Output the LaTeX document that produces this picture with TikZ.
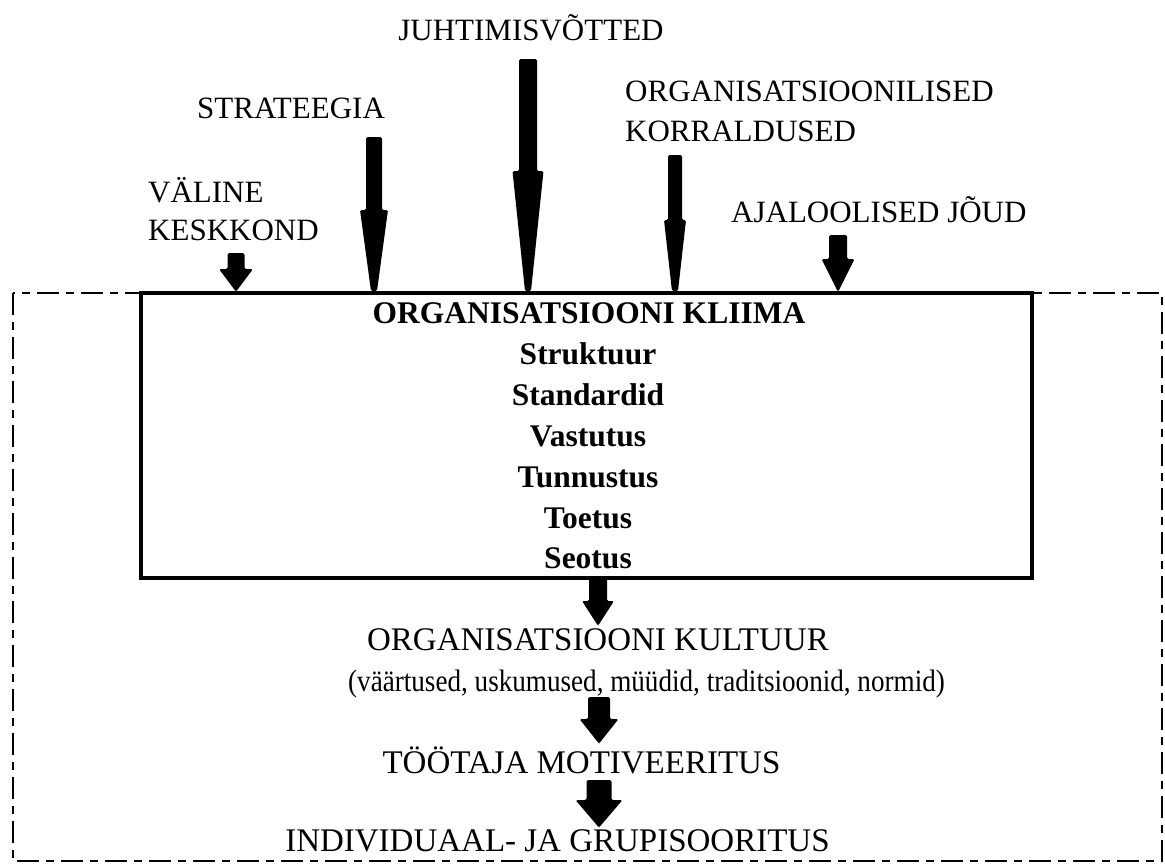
\documentclass[tikz,border=0pt]{standalone}
\usepackage{fontspec}
\setmainfont{Liberation Serif}
\usetikzlibrary{calc}
\tikzset{
  lbl/.style={inner sep=0pt, font=\fontsize{31}{38}\selectfont},
  lblbig/.style={inner sep=0pt, font=\fontsize{33}{40}\selectfont},
  lblnarrow/.style={inner sep=0pt, font=\fontsize{31}{38}\selectfont, xscale=0.875, transform shape},
  blbl/.style={inner sep=0pt, font=\fontsize{31.5}{38}\selectfont\bfseries},
  frame/.style={line width=2pt, dash pattern=on 22pt off 7pt on 8pt off 7pt},
  mainbox/.style={draw, line width=4pt, fill=white, inner sep=0pt},
  arrowfill/.style={fill=black, rounded corners=1.5pt}
}
\newcommand\taperarrow[6]{%
  \fill[arrowfill] let \p1=(#1), \p2=(#2) in
    (\x1-#3pt,\y1) -- (\x1+#3pt,\y1) -- (\x1+#3pt,\y2+#4pt) -- (\x1+#5pt,\y2+#4pt)
    -- (\x1+#6pt,\y2) -- (\x1-#6pt,\y2) -- (\x1-#5pt,\y2+#4pt) -- (\x1-#3pt,\y2+#4pt) -- cycle;}
\begin{document}
\begin{tikzpicture}[x=1pt,y=-1pt]
\useasboundingbox (0,0) rectangle (1165,863);
% outer dashed frame
\draw[frame] (13,293) rectangle (1162,861);
% main box
\node[mainbox, minimum width=891pt, minimum height=285pt] (box) at (586.5,435.5) {};
% box texts
\node[blbl, anchor=base] (k0) at (589,323) {ORGANISATSIOONI KLIIMA};
\node[blbl, anchor=base] (k1) at (588,364) {Struktuur};
\node[blbl, anchor=base] (k2) at (588,405) {Standardid};
\node[blbl, anchor=base] (k3) at (588,446) {Vastutus};
\node[blbl, anchor=base] (k4) at (588,487) {Tunnustus};
\node[blbl, anchor=base] (k5) at (588,528) {Toetus};
\node[blbl, anchor=base] (k6) at (588,568) {Seotus};
% top labels
\node[lbl, anchor=base] (juht) at (531,40) {JUHTIMISVÕTTED};
\node[lbl, anchor=base] (strat) at (291,118) {STRATEEGIA};
\node[lbl, anchor=base west] (org1) at (625,101) {ORGANISATSIOONILISED};
\node[lbl, anchor=base west] (org2) at (625,141) {KORRALDUSED};
\node[lbl, anchor=base west] (val1) at (148,202) {VÄLINE};
\node[lbl, anchor=base west] (val2) at (148,240) {KESKKOND};
\node[lbl, anchor=base west] (ajal) at (731,222) {AJALOOLISED JÕUD};
% lower labels
\node[lblbig, anchor=base] (kult) at (598,650) {ORGANISATSIOONI KULTUUR};
\node[lblnarrow, anchor=base] (kult2) at (646.5,691) {(väärtused, uskumused, müüdid, traditsioonid, normid)};
\node[lblbig, anchor=base] (mot) at (581.5,773) {TÖÖTAJA MOTIVEERITUS};
\node[lblbig, anchor=base] (ind) at (557.5,851) {INDIVIDUAAL- JA GRUPISOORITUS};
% arrow coordinates
\coordinate (aVal) at (236,253);
\coordinate (aStr) at (374,137);
\coordinate (aJuh) at (528,59);
\coordinate (aOrg) at (675,155);
\coordinate (aAja) at (838,235);
\coordinate (aK1) at (598,578);
\coordinate (aK1t) at (598,625);
\coordinate (aK2) at (599,697);
\coordinate (aK2t) at (599,743);
\coordinate (aK3) at (599,780);
\coordinate (aK3t) at (599,827);
% arrows into the box
\taperarrow{aVal}{aVal |- box.north}{8.5}{22}{17}{0.5}
\taperarrow{aStr}{aStr |- box.north}{8}{81}{14}{3}
\taperarrow{aJuh}{aJuh |- box.north}{9}{120}{15.5}{3}
\taperarrow{aOrg}{aOrg |- box.north}{7}{71}{11}{3}
\taperarrow{aAja}{aAja |- box.north}{9}{32}{16.5}{0.5}
% arrows below
\taperarrow{aK1}{aK1t}{9}{24}{16}{0.5}
\taperarrow{aK2}{aK2t}{11}{24}{19.5}{0.5}
\taperarrow{aK3}{aK3t}{12.5}{27}{23.5}{0.5}
\end{tikzpicture}
\end{document}
